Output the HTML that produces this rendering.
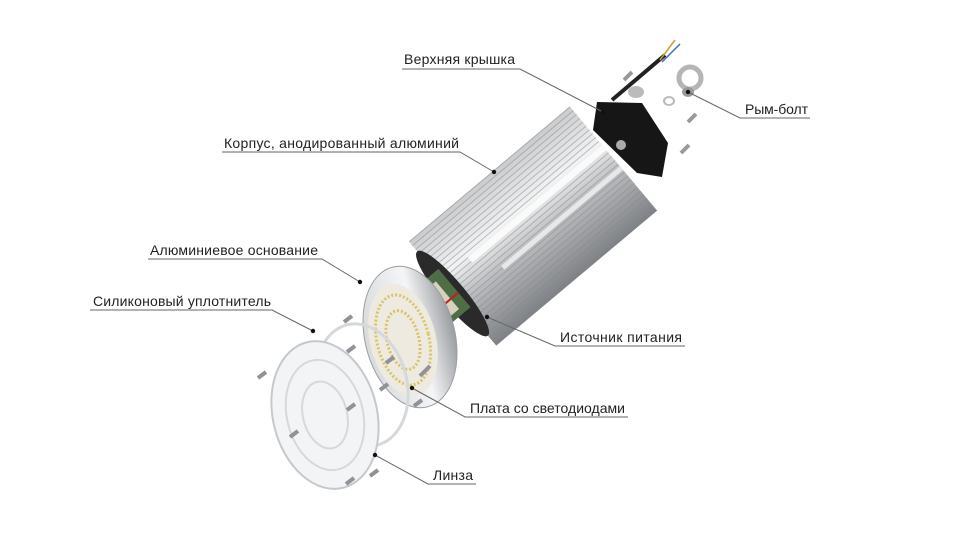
<!DOCTYPE html>
<html><head><meta charset="utf-8"><style>
html,body{margin:0;padding:0;background:#fff;width:960px;height:540px;overflow:hidden}
svg{display:block}
text{font-family:"Liberation Sans",sans-serif;font-size:14px;fill:#222}
</style></head><body>
<svg width="960" height="540" viewBox="0 0 960 540">
<defs>
<linearGradient id="hs" x1="0" y1="0" x2="0" y2="1">
<stop offset="0" stop-color="#c9cbcd"/><stop offset="0.35" stop-color="#f2f3f4"/><stop offset="0.6" stop-color="#b9bbbe"/><stop offset="1" stop-color="#7d8084"/></linearGradient>
<linearGradient id="disc" x1="0" y1="0" x2="1" y2="0">
<stop offset="0" stop-color="#d8dadc"/><stop offset="0.6" stop-color="#f4f5f6"/><stop offset="1" stop-color="#9a9da1"/></linearGradient>
<pattern id="fins" width="5" height="5" patternUnits="userSpaceOnUse"><line x1="0" y1="2.5" x2="5" y2="2.5" stroke="#888" stroke-width="1" opacity="0.5"/></pattern>
</defs>

<!-- heatsink -->
<g transform="translate(533,226) rotate(-40)">
<rect x="-105" y="-68" width="210" height="136" fill="url(#hs)"/>
<rect x="-105" y="-68" width="210" height="136" fill="url(#fins)"/>
<rect x="-70" y="-18" width="175" height="7" fill="#fafafa"/>
<rect x="-50" y="10" width="155" height="5" fill="#e8e8e8"/>
<ellipse cx="-105" cy="0" rx="12" ry="55" fill="#2a2a2a"/>
<rect x="-150" y="-28" width="50" height="50" fill="#4f6e45"/>
<rect x="-138" y="-20" width="28" height="36" fill="#d8d2bd"/>
<line x1="-150" y1="3" x2="-100" y2="3" stroke="#b22" stroke-width="2"/>
</g>

<!-- top plate -->
<polygon points="597,102 642,103 668,143 662,177 637,173 593,130" fill="#161616"/>
<circle cx="621" cy="145" r="5" fill="#aaa"/>
<line x1="612" y1="100" x2="665" y2="55" stroke="#222" stroke-width="4"/>
<line x1="660" y1="60" x2="675" y2="40" stroke="#c8a030" stroke-width="1.5"/>
<line x1="662" y1="62" x2="680" y2="44" stroke="#3a6fc0" stroke-width="1.5"/>
<ellipse cx="636" cy="92" rx="8" ry="6" fill="#bbb"/>
<circle cx="690" cy="78" r="11" fill="none" stroke="#b5b5b5" stroke-width="5"/>
<ellipse cx="688" cy="92" rx="6" ry="5" fill="#999"/>
<ellipse cx="669" cy="101" rx="5" ry="4" fill="none" stroke="#bbb" stroke-width="2"/>
<line x1="624" y1="80" x2="632" y2="72" stroke="#999" stroke-width="4"/>
<line x1="688" y1="122" x2="696" y2="114" stroke="#999" stroke-width="4"/>
<line x1="681" y1="153" x2="689" y2="145" stroke="#999" stroke-width="4"/>

<!-- base disc -->
<ellipse cx="410" cy="337" rx="45" ry="72" transform="rotate(-14 410 337)" fill="url(#disc)" stroke="#9a9da1"/>
<ellipse cx="403" cy="340" rx="33" ry="57" transform="rotate(-14 403 340)" fill="#eeeae0"/>
<ellipse cx="403" cy="340" rx="26" ry="46" transform="rotate(-14 403 340)" fill="none" stroke="#d9c36a" stroke-width="3" stroke-dasharray="2 2"/>
<ellipse cx="403" cy="340" rx="16" ry="30" transform="rotate(-14 403 340)" fill="none" stroke="#d9c36a" stroke-width="3" stroke-dasharray="2 2"/>
<!-- ring -->
<ellipse cx="362" cy="385" rx="45" ry="62" transform="rotate(-14 362 385)" fill="none" stroke="#d5d8dc" stroke-width="3"/>
<!-- lens -->
<ellipse cx="325" cy="415" rx="52" ry="75" transform="rotate(-14 325 415)" fill="#f3f4f5" stroke="#c5c8cc" stroke-width="2"/>
<ellipse cx="325" cy="415" rx="38" ry="56" transform="rotate(-14 325 415)" fill="none" stroke="#d6d9dc" stroke-width="2"/>
<ellipse cx="325" cy="415" rx="22" ry="34" transform="rotate(-14 325 415)" fill="none" stroke="#d6d9dc" stroke-width="2"/>
<g stroke="#8f9296" stroke-width="4">
<line x1="258" y1="378" x2="266" y2="372"/><line x1="290" y1="437" x2="298" y2="431"/>
<line x1="346" y1="484" x2="354" y2="478"/><line x1="370" y1="476" x2="378" y2="470"/>
<line x1="347" y1="410" x2="355" y2="404"/><line x1="344" y1="322" x2="352" y2="316"/>
<line x1="347" y1="352" x2="355" y2="346"/><line x1="380" y1="390" x2="388" y2="384"/>
<line x1="414" y1="406" x2="422" y2="400"/><line x1="420" y1="376" x2="430" y2="366"/>
<line x1="386" y1="363" x2="394" y2="357"/>
</g>

<!-- leader lines -->
<g stroke="#666" stroke-width="1" fill="none">
<polyline points="402,69 520,69 603,112"/>
<polyline points="688,92 740,118 810,118"/>
<polyline points="222,152 460,152 494,172"/>
<polyline points="148,259 322,259 360,282"/>
<polyline points="90,310 272,310 313,331"/>
<polyline points="487,317 555,346 685,346"/>
<polyline points="412,388 465,417 628,417"/>
<polyline points="375,455 428,484 476,484"/>
</g>
<g fill="#111">
<circle cx="603" cy="112" r="2.2"/><circle cx="688" cy="92" r="2.2"/><circle cx="494" cy="172" r="2.2"/>
<circle cx="360" cy="282" r="2.2"/><circle cx="313" cy="331" r="2.2"/><circle cx="487" cy="317" r="2.2"/>
<circle cx="412" cy="388" r="2.2"/><circle cx="375" cy="455" r="2.2"/>
</g>
<text x="404" y="64" textLength="111">Верхняя крышка</text>
<text x="745" y="114" textLength="63">Рым-болт</text>
<text x="224" y="148" textLength="235">Корпус, анодированный алюминий</text>
<text x="150" y="255" textLength="168">Алюминиевое основание</text>
<text x="93" y="306" textLength="178">Силиконовый уплотнитель</text>
<text x="560" y="342" textLength="122">Источник питания</text>
<text x="470" y="413" textLength="155">Плата со светодиодами</text>
<text x="433" y="480" textLength="40">Линза</text>
</svg>
</body></html>
